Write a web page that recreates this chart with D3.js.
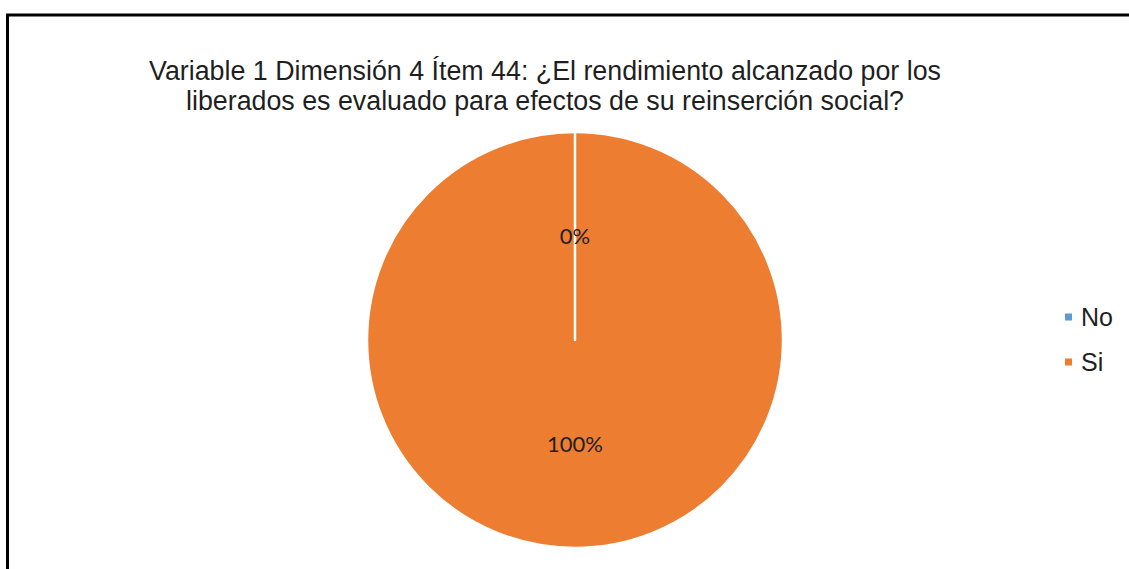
<!DOCTYPE html>
<html>
<head>
<meta charset="utf-8">
<script src="https://cdn.jsdelivr.net/npm/d3@7"></script>
<style>
  body { margin: 0; background: #fff; }
  svg { display: block; }
</style>
</head>
<body>
<svg id="chart" width="1129" height="569"></svg>
<script>
// chart data
var categories = ["No", "Si"];
var values = [0, 100];
var labels = ["0%", "100%"];
var colors = ["#5B9BD5", "#ED7D31"];
var titleLines = [
  "Variable 1 Dimensión 4 Ítem 44: ¿El rendimiento alcanzado por los",
  "liberados es evaluado para efectos de su reinserción social?"
];

var width = 1129, height = 569;
var svg = d3.select("#chart");

// outer frame (runs off the right and bottom edges)
svg.append("rect")
    .attr("x", 7.5)
    .attr("y", 15)
    .attr("width", width + 10)
    .attr("height", height + 10)
    .attr("fill", "#fff")
    .attr("stroke", "#000")
    .attr("stroke-width", 3);

// title
svg.append("g")
  .selectAll("text")
    .data(titleLines)
    .enter()
  .append("text")
    .attr("x", 545)
    .attr("y", function(d, i) { return 80 + i * 30; })
    .attr("text-anchor", "middle")
    .style("font-family", "'Liberation Sans', Arial, sans-serif")
    .style("font-size", "26.8px")
    .style("fill", "#1f1f1f")
    .text(function(d) { return d; });

// pie
var cx = 575, cy = 340, radius = 208;
var data = categories.map(function(c, i) {
  return {name: c, value: values[i], label: labels[i], color: colors[i]};
});

var pie = d3.pie()
    .sort(null)
    .value(function(d) { return d.value; });

var arc = d3.arc()
    .innerRadius(0)
    .outerRadius(radius);

var arcs = pie(data);

var g = svg.append("g")
    .attr("transform", "translate(" + cx + "," + cy + ")");

// draw the big slice first so the zero slice's edge stays visible on top
g.selectAll("path.slice")
    .data(arcs.slice().reverse())
    .enter()
  .append("path")
    .attr("class", "slice")
    .attr("d", arc)
    .attr("fill", function(d) { return d.data.color; })
    .attr("stroke", "#fff")
    .attr("stroke-width", 2.5)
    .attr("stroke-linejoin", "round");

// data labels at half radius along each slice's mid angle
g.selectAll("text.lbl")
    .data(arcs)
    .enter()
  .append("text")
    .attr("class", "lbl")
    .attr("x", function(d) {
      var a = (d.startAngle + d.endAngle) / 2;
      return Math.sin(a) * radius / 2;
    })
    .attr("y", function(d) {
      var a = (d.startAngle + d.endAngle) / 2;
      return -Math.cos(a) * radius / 2;
    })
    .attr("dy", "0.35em")
    .attr("text-anchor", "middle")
    .style("font-family", "Lato, 'Open Sans', sans-serif")
    .style("font-size", "22px")
    .style("fill", "#1f1f1f")
    .text(function(d) { return d.data.label; });

// legend
var legend = svg.append("g")
    .attr("transform", "translate(1065,317)");

var item = legend.selectAll("g")
    .data(data)
    .enter()
  .append("g")
    .attr("transform", function(d, i) { return "translate(0," + i * 45 + ")"; });

item.append("rect")
    .attr("x", 0)
    .attr("y", -3.5)
    .attr("width", 7)
    .attr("height", 7)
    .attr("fill", function(d) { return d.color; });

item.append("text")
    .attr("x", 16)
    .attr("y", 0)
    .attr("dy", "0.35em")
    .style("font-family", "'Liberation Sans', Arial, sans-serif")
    .style("font-size", "25px")
    .style("fill", "#1f1f1f")
    .text(function(d) { return d.name; });
</script>
</body>
</html>
